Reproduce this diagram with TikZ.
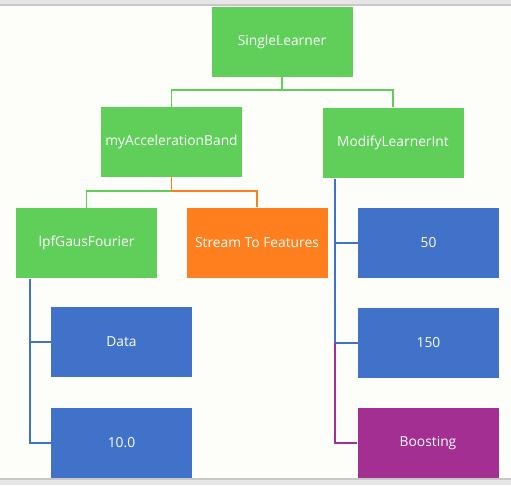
\documentclass[tikz,border=0pt]{standalone}
\usepackage{fontspec}
\setmainfont{Open Sans}
\usepackage{xcolor}
\usetikzlibrary{
    calc,
    positioning
}
\definecolor{leafgreen}{RGB}{95,207,90}
\definecolor{leaforange}{RGB}{255,127,30}
\definecolor{leafblue}{RGB}{65,114,201}
\definecolor{leafpurple}{RGB}{162,47,145}
\definecolor{paper}{RGB}{253,253,249}
\definecolor{band}{RGB}{230,230,230}
\definecolor{bandline}{RGB}{200,200,200}
\tikzset{
    box/.style={minimum width=141pt, minimum height=70pt, inner sep=0pt,
        text=white, font=\fontsize{13.8}{16}\selectfont},
    greenbox/.style={box, fill=leafgreen},
    orangebox/.style={box, fill=leaforange},
    bluebox/.style={box, fill=leafblue},
    purplebox/.style={box, fill=leafpurple},
    wire/.style={line width=1.6pt}
}

\begin{document}
\begin{tikzpicture}[x=1pt, y=-1pt]
    \useasboundingbox (0,0) rectangle (511,485);
    \fill[paper] (0,0) rectangle (511,485);
    \fill[band] (0,0) rectangle (511,5);
    \draw[bandline, line width=1.2pt] (0,5) -- (511,5);
    \fill[band] (0,479) rectangle (511,485);
    \draw[bandline, line width=1.2pt] (0,479) -- (511,479);

    \node[greenbox] (single) at (282, 41.5) {SingleLearner};
    \node[greenbox] (accel) at (171.5, 142) {myAccelerationBand};
    \node[greenbox] (modify) at (393, 142.5) {ModifyLearnerInt};
    \node[greenbox] (lpf) at (86.5, 243) {lpfGausFourier};
    \node[orangebox] (stream) at (257, 242.5) {Stream To Features};
    \node[bluebox] (fifty) at (428.5, 243) {50};
    \node[bluebox] (data) at (121.5, 342) {Data};
    \node[bluebox] (ten) at (121.5, 443) {10.0};
    \node[bluebox] (onefifty) at (428.5, 343) {150};
    \node[purplebox] (boost) at (428, 443) {Boosting};

    % top level
    \draw[wire, leafgreen] (single.south) -- ++(0,13) -| (accel.north);
    \draw[wire, leafgreen] (single.south) -- ++(0,13) -| (modify.north);

    % children of myAccelerationBand
    \draw[wire, leafgreen] (accel.south) -- ++(0,14) -| (lpf.north);
    \draw[wire, leaforange] (accel.south) -- ++(0,14) -| (stream.north);

    % children of lpfGausFourier
    \coordinate (lpfbus) at ($(lpf.south west)+(14,1)$);
    \draw[wire, leafblue] (lpfbus) |- (data.west);
    \draw[wire, leafblue] (lpfbus) |- (ten.west);

    % children of ModifyLearnerInt
    \coordinate (modbus) at ($(modify.south west)+(12.5,1)$);
    \draw[wire, leafblue] (modbus) |- (fifty.west);
    \draw[wire, leafblue] (modbus) |- (onefifty.west);
    \draw[wire, leafpurple] (modbus |- onefifty.west) |- (boost.west);
\end{tikzpicture}
\end{document}
